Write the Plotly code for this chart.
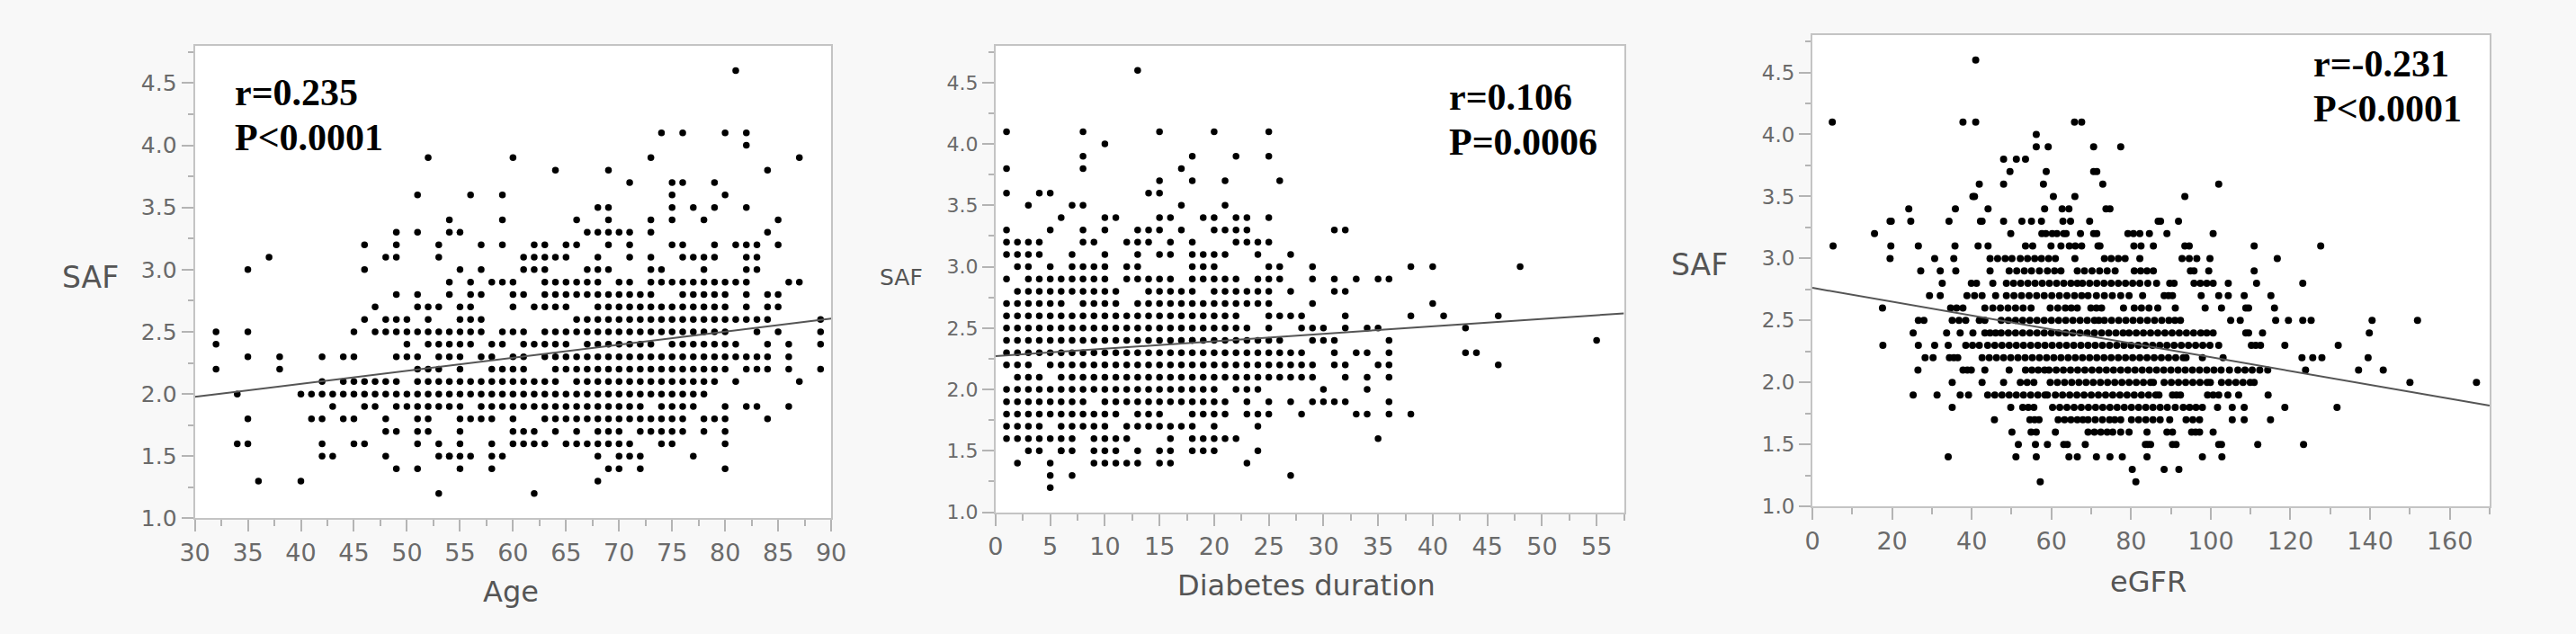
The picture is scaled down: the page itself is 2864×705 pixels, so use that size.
import plotly.graph_objects as go

# SAF level -> ages of the dots on that row
age_rows = {
    4.6: [81],
    4.1: [74, 76, 80, 82],
    4.0: [82],
    3.9: [52, 60, 73, 87],
    3.8: [64, 69, 84],
    3.7: [71, 75, 76, 79],
    3.6: [51, 56, 59, 75, 80],
    3.5: [68, 69, 75, 77, 79, 82],
    3.4: [54, 59, 66, 69, 73, 75, 78, 85],
    3.3: [49, 51, 54, 55, 67, 68, 69, 70, 71, 73, 84],
    3.2: [46, 49, 53, 57, 59, 62, 63, 65, 66, 69, 71, 75, 76, 79, 81, 82, 83, 85],
    3.1: [37, 48, 49, 53, 61, 62, 63, 64, 65, 68, 71, 73, 76, 77, 78, 79, 82, 83],
    3.0: [35, 46, 55, 57, 61, 62, 63, 67, 68, 69, 73, 74, 78, 82, 83],
    2.9: [54, 56, 58, 59, 60, 63, 64, 65, 66, 67, 68, 70, 71, 73, 74, 75, 76, 77, 78,
          79, 80, 81, 82, 86, 87],
    2.8: [49, 51, 54, 56, 57, 60, 61, 63, 64, 65, 66, 67, 68, 69, 70, 71, 72, 73, 76,
          77, 78, 79, 80, 82, 84, 85],
    2.7: [47, 51, 52, 53, 55, 56, 60, 62, 63, 64, 65, 68, 69, 70, 71, 72, 73, 74, 75,
          76, 77, 78, 79, 80, 82, 84, 85],
    2.6: [46, 48, 49, 50, 52, 55, 56, 57, 66, 67, 68, 69, 70, 71, 72, 73, 74, 75, 76,
          77, 78, 79, 80, 81, 82, 83, 84, 89],
    2.5: [32, 35, 45, 47, 48, 49, 50, 51, 52, 53, 54, 55, 56, 57, 59, 60, 61, 63, 64,
          65, 66, 67, 68, 69, 70, 71, 72, 73, 74, 75, 76, 77, 78, 79, 80, 83, 85, 89],
    2.4: [32, 50, 52, 53, 54, 55, 56, 58, 59, 61, 62, 63, 64, 65, 67, 68, 69, 70, 71,
          72, 73, 75, 76, 77, 78, 79, 80, 81, 84, 86, 89],
    2.3: [35, 38, 42, 44, 45, 49, 50, 51, 53, 54, 55, 57, 58, 60, 61, 63, 64, 65, 66,
          67, 68, 69, 70, 71, 72, 73, 74, 75, 76, 77, 78, 79, 80, 81, 82, 83, 84, 86],
    2.2: [32, 38, 51, 52, 53, 55, 58, 59, 60, 61, 64, 65, 66, 67, 68, 69, 70, 71, 72,
          73, 74, 75, 76, 77, 78, 79, 80, 82, 83, 84, 86, 89],
    2.1: [42, 44, 45, 46, 47, 48, 49, 51, 52, 53, 54, 55, 56, 57, 58, 59, 60, 61, 62,
          63, 64, 66, 67, 68, 69, 70, 71, 72, 73, 74, 75, 76, 77, 78, 79, 81, 87],
    2.0: [34, 40, 41, 42, 43, 44, 45, 46, 47, 48, 49, 50, 51, 52, 53, 54, 55, 56, 57,
          58, 59, 60, 61, 62, 63, 64, 65, 66, 67, 68, 69, 70, 71, 72, 73, 74, 75, 76,
          77, 78],
    1.9: [43, 46, 47, 49, 50, 51, 52, 53, 54, 55, 57, 58, 59, 60, 61, 62, 63, 64, 65,
          66, 67, 68, 69, 70, 71, 72, 74, 75, 76, 77, 80, 82, 83, 86],
    1.8: [35, 41, 42, 44, 45, 48, 51, 52, 55, 56, 57, 58, 60, 63, 64, 65, 66, 67, 68,
          69, 70, 71, 72, 73, 74, 75, 76, 78, 79, 80, 84],
    1.7: [48, 49, 51, 52, 55, 60, 61, 62, 64, 66, 68, 69, 70, 72, 73, 74, 75, 76, 78, 80],
    1.6: [34, 35, 42, 45, 46, 51, 53, 55, 58, 60, 61, 62, 63, 65, 66, 67, 68, 69, 70,
          71, 74, 75, 80],
    1.5: [42, 43, 48, 53, 54, 54, 55, 56, 58, 59, 68, 70, 71, 72, 77],
    1.4: [49, 51, 55, 58, 69, 70, 72, 80],
    1.3: [36, 40, 68],
    1.2: [53, 62],
}

# SAF level -> diabetes duration (years)
duration_rows = {
    4.6: [13],
    4.1: [1, 8, 15, 20, 25],
    4.0: [10],
    3.9: [8, 18, 22, 25],
    3.8: [1, 8, 17],
    3.7: [15, 18, 21, 26],
    3.6: [1, 4, 5, 14, 15],
    3.5: [3, 7, 8, 17, 21],
    3.4: [6, 10, 11, 15, 16, 19, 20, 22, 23, 25],
    3.3: [1, 5, 8, 10, 13, 14, 15, 17, 20, 21, 22, 23, 31, 32],
    3.2: [1, 2, 3, 4, 8, 9, 12, 13, 14, 16, 18, 22, 23, 24, 25],
    3.1: [1, 2, 3, 4, 7, 10, 13, 15, 16, 18, 19, 20, 21, 24, 27],
    3.0: [2, 3, 5, 7, 8, 9, 10, 12, 13, 18, 19, 20, 25, 26, 29, 38, 40, 48],
    2.9: [1, 3, 4, 5, 6, 7, 8, 9, 10, 12, 13, 14, 15, 16, 18, 19, 20, 21, 22, 24, 25,
          26, 29, 31, 33, 35, 36],
    2.8: [2, 3, 4, 5, 6, 7, 8, 9, 10, 11, 14, 15, 16, 17, 18, 20, 21, 22, 23, 24, 25,
          27, 31, 32],
    2.7: [1, 2, 3, 4, 5, 6, 8, 9, 10, 11, 13, 14, 15, 16, 17, 18, 19, 20, 21, 22, 23,
          24, 25, 29, 40],
    2.6: [1, 2, 3, 4, 5, 6, 7, 8, 9, 10, 11, 12, 13, 14, 15, 16, 17, 18, 19, 20, 21,
          22, 25, 26, 27, 28, 32, 38, 41, 46],
    2.5: [1, 2, 3, 4, 5, 6, 7, 8, 9, 10, 11, 12, 13, 14, 15, 16, 17, 18, 19, 20, 21,
          22, 23, 25, 28, 29, 30, 32, 34, 35, 43],
    2.4: [1, 2, 3, 4, 5, 6, 7, 8, 9, 10, 11, 12, 13, 14, 15, 16, 17, 18, 18, 19, 20,
          21, 22, 23, 24, 25, 26, 29, 30, 31, 36, 55],
    2.3: [1, 2, 3, 4, 5, 6, 7, 8, 9, 10, 11, 12, 13, 14, 15, 16, 17, 18, 19, 20, 21,
          22, 23, 24, 25, 26, 27, 28, 31, 33, 34, 36, 43, 44],
    2.2: [1, 2, 3, 5, 6, 7, 8, 9, 10, 11, 12, 13, 14, 15, 16, 17, 18, 19, 20, 21, 22,
          23, 24, 25, 26, 27, 28, 29, 31, 32, 35, 36, 46],
    2.1: [2, 3, 4, 6, 7, 8, 9, 10, 11, 12, 13, 14, 15, 16, 17, 18, 19, 20, 21, 22, 23,
          24, 25, 26, 27, 28, 29, 32, 34, 36],
    2.0: [1, 2, 3, 4, 5, 6, 7, 8, 9, 10, 11, 12, 13, 14, 15, 16, 17, 18, 19, 20, 22,
          23, 24, 30, 34],
    1.9: [1, 2, 3, 4, 5, 6, 7, 8, 10, 11, 12, 13, 14, 15, 16, 17, 18, 19, 20, 21, 23,
          25, 27, 29, 30, 31, 32, 36],
    1.8: [1, 2, 3, 4, 5, 6, 7, 8, 9, 10, 11, 13, 14, 15, 18, 19, 20, 21, 23, 24, 25,
          28, 33, 34, 36, 38],
    1.7: [1, 2, 3, 4, 6, 7, 8, 9, 10, 12, 13, 14, 15, 16, 17, 18, 20, 24],
    1.6: [1, 2, 3, 4, 5, 6, 7, 9, 10, 11, 12, 16, 18, 19, 20, 21, 22, 35],
    1.5: [3, 4, 6, 6, 7, 9, 10, 11, 13, 15, 16, 18, 19, 20, 24],
    1.4: [2, 5, 9, 10, 11, 12, 13, 15, 16, 23],
    1.3: [5, 7, 27],
    1.2: [5],
}

# SAF level -> eGFR
egfr_rows = {
    4.6: [41],
    4.1: [5, 37.8, 41, 65.8, 67.6],
    4.0: [56.2],
    3.9: [56.2, 59.2, 70.6, 77.4],
    3.8: [48, 51.2, 53.5],
    3.7: [49.6, 58.7, 70.6, 71.4],
    3.6: [41.9, 48, 58, 72.9, 102],
    3.5: [40.3, 40.7, 60.5, 65.9, 93.5],
    3.4: [24.2, 35.9, 44.1, 58.3, 62.7, 64.4, 73.7, 74.7],
    3.3: [19.5, 19.8, 24.7, 34.3, 42.2, 42.6, 48, 52.6, 55, 57.5, 62.9, 64.8, 69.6,
          86.8, 87.4, 91.9],
    3.2: [15.6, 49.8, 57.6, 58.6, 60.2, 61.4, 63.1, 63.7, 67.3, 70.6, 71.4, 79.2, 80.6,
          82.2, 84.6, 89, 100.6],
    3.1: [5.2, 19.7, 26.6, 35.8, 41.6, 44.1, 53.5, 55.3, 59.9, 62.4, 64.5, 66, 67.6,
          71.7, 72.2, 80.7, 82.5, 85.6, 93.5, 94.6, 110.9, 127.6],
    3.0: [19.5, 30.7, 35.5, 44.6, 46.5, 48.4, 50.1, 52.2, 54, 55.8, 57.5, 59.3, 61,
          65.9, 73.3, 75, 76.8, 78.5, 82.2, 92.8, 94.6, 96.5, 99.8, 116.7],
    2.9: [27.2, 32.1, 36, 44.6, 49.4, 51.3, 53.2, 55, 57, 59, 60.8, 62.4, 66.5, 68.3,
          70.2, 72.1, 74, 76, 80.8, 82.4, 84, 85.6, 94.9, 95.8, 99.5, 110.9],
    2.8: [32.6, 39.9, 41.2, 45.3, 48.7, 50.5, 52.3, 54.1, 55.9, 57.7, 59.5, 61.3, 63.1,
          64.9, 66.5, 67.8, 69.6, 71.4, 73.2, 75, 76.8, 78.6, 80.4, 82.2, 84.2, 86.4,
          89.7, 90.8, 95.8, 97.4, 99, 100.6, 104.4, 111.5, 123.1],
    2.7: [29.4, 32.1, 38.8, 40.7, 42.6, 46, 48.7, 50.6, 52.5, 54.4, 56.3, 58.2, 60.1,
          62, 63.9, 65.8, 67.6, 69.2, 71.3, 73.3, 75.3, 77.4, 79.5, 82.9, 88.3, 89.4,
          90.4, 97.6, 102, 104.4, 108.4, 115.1],
    2.6: [17.6, 34.7, 36.2, 37.8, 43.3, 45.3, 47.2, 49.1, 51, 52.9, 54.9, 59.7, 61.6,
          63.5, 65, 66.5, 69.9, 71.3, 72.6, 78.1, 80.8, 82.6, 84.5, 86.7, 91.1, 98.6,
          102.7, 108.8, 109.5, 116],
    2.5: [26.6, 28, 35.1, 36.8, 38.5, 41.9, 43.3, 47.4, 49.2, 51, 52.8, 54.6, 56.4,
          58.2, 60, 61.8, 63.6, 65.4, 67.2, 69, 70.8, 71.9, 73.3, 75.1, 76.9, 78.7,
          80.5, 82.3, 84.1, 85.9, 87.7, 89.5, 91, 92.4, 105, 107.4, 116.3, 119.5, 123.1,
          125.2, 140.5, 151.9],
    2.4: [25.3, 33.7, 37.1, 40.3, 43.3, 44.6, 46, 47.4, 49.2, 51, 52.8, 54.6, 56.4,
          58.2, 60, 61.8, 63.6, 65.4, 67.2, 69, 70.8, 72.6, 74.4, 76.2, 78, 79.5, 81.3,
          83.1, 84.9, 86.7, 88.5, 90.3, 92.1, 93.9, 95.7, 97.5, 99, 100.6, 108.8, 109.5,
          113, 139.8],
    2.3: [17.7, 26.6, 30.7, 34.1, 38.5, 40.2, 41.9, 44, 45.8, 47.6, 49.4, 51.2, 53,
          54.8, 56.6, 58.4, 60.2, 62, 63.8, 65.6, 67.4, 69.2, 71, 72.8, 74.6, 76.4,
          78.2, 80, 81.8, 83.6, 85.4, 87.2, 89, 90.8, 92.6, 94.4, 96.2, 98, 99.8, 102,
          110.2, 111.3, 112.5, 118.6, 132],
    2.2: [28.3, 30.3, 34.4, 35.5, 36.5, 42.6, 44.4, 46.2, 48, 49.8, 51.6, 53.4, 55.2,
          57, 58.8, 60.6, 62.4, 64.2, 66, 67.8, 69.6, 71.4, 73.2, 75, 76.8, 78.6, 80.4,
          82.2, 84, 85.8, 87.6, 89.4, 91.2, 93.1, 93.8, 97.9, 103.1, 122.9, 125.6,
          127.9, 139.5],
    2.1: [26.5, 37.8, 38.9, 39.9, 43.3, 49.4, 53.5, 55.1, 56.7, 58.3, 59.4, 61.2, 63,
          64.8, 66.6, 68.4, 70.2, 72, 73.8, 75.6, 77.4, 79.2, 81, 82.8, 84.6, 86.4,
          88.2, 90, 91.8, 93.6, 95.4, 97.2, 99, 100.8, 102.6, 104.7, 106.8, 108.6,
          110.4, 112.3, 114.3, 123.8, 137.1, 143.3],
    2.0: [35.1, 42.6, 48, 52.2, 53.9, 55.6, 59.7, 61.5, 63.3, 65.1, 66.9, 68.7, 70.5,
          72.3, 74.1, 75.9, 77.7, 79.5, 81.3, 83.1, 84.9, 85.6, 88.3, 90.1, 91.9, 93.7,
          95.5, 97.3, 99.1, 99.9, 102.7, 104.5, 106.3, 108.1, 109.9, 110.9, 150, 166.7],
    1.9: [25.3, 31.3, 37.1, 39.2, 44, 45.8, 47.6, 49.4, 51.2, 53, 54.8, 56.6, 58.4, 59,
          61, 62.8, 64.6, 66.4, 68.2, 70, 71.8, 73.6, 75.4, 77.2, 79, 80.8, 82.6, 84.4,
          86.2, 87, 90.4, 91.4, 92.4, 99.2, 100.6, 102, 104.3, 107, 114.4],
    1.8: [35.1, 49.8, 52.8, 54.2, 55.6, 60.3, 62.1, 63.9, 65.7, 67.5, 69.3, 71.1, 72.9,
          74.7, 76.5, 78.3, 80.1, 81.9, 83.7, 85.5, 87.3, 89.1, 91.1, 93.1, 94.7, 96.3,
          97.9, 101.7, 105.4, 108.4, 118.6, 131.7],
    1.7: [45.7, 54.6, 55.8, 56.9, 61.7, 63.3, 64.9, 66.5, 67.9, 69.2, 71, 72.8, 74.6,
          75.9, 77.4, 80.1, 81.9, 83.7, 85.5, 87.3, 89.7, 93.8, 95.5, 97.2, 105.4,
          108.4, 115],
    1.6: [50.1, 54.9, 56.2, 61, 69.2, 70.8, 72.4, 74, 75.4, 77.4, 79.5, 84, 89, 90.4,
          95.2, 96.2, 97.2, 100.6],
    1.5: [51.7, 56, 59, 63.1, 64, 68.5, 83.6, 84.2, 84.9, 90.4, 91.3, 102, 102.7, 111.8,
          123.3],
    1.4: [34.1, 51.1, 56.2, 64.4, 66.5, 71.3, 74.7, 77.8, 84, 97.9, 102.8],
    1.3: [80.3, 88.3, 92],
    1.2: [57.2, 81.2],
}

# fitted lines, end points
age_fit_x = [30, 90]
age_fit_y = [1.977, 2.607]
duration_fit_x = [0, 57.5]
duration_fit_y = [2.272, 2.62]
egfr_fit_x = [0, 170]
egfr_fit_y = [2.763, 1.813]

stats = [("r=0.235", "P<0.0001"), ("r=0.106", "P=0.0006"), ("r=-0.231", "P<0.0001")]
x_titles = ["Age", "Diabetes duration", "eGFR"]


def flatten(rows):
    xs, ys = [], []
    for saf, vals in rows.items():
        xs.extend(vals)
        ys.extend([saf] * len(vals))
    return xs, ys


W, H = 2864, 705
SANS = "DejaVu Sans"
AXIS_GREY = "#c4c4c4"
TICK_GREY = "#b4b4b4"
LABEL_GREY = "#6a6a6a"

fig = go.Figure()

panels = [
    dict(rows=age_rows, fit=(age_fit_x, age_fit_y), xr=[30, 90], dt=5, xdom=(202, 918), ydom=(52, 589), yfs=25, ms=7.5),
    dict(rows=duration_rows, fit=(duration_fit_x, duration_fit_y), xr=[0, 57.5], dt=5, xdom=(1103, 1810), ydom=(52, 582), yfs=22, ms=7.5),
    dict(rows=egfr_rows, fit=(egfr_fit_x, egfr_fit_y), xr=[0, 170], dt=20, xdom=(2022, 2784), ydom=(40, 575.5), yfs=23, ms=8),
]

layout = {}
for i, p in enumerate(panels, start=1):
    sfx = "" if i == 1 else str(i)
    xs, ys = flatten(p["rows"])
    fig.add_trace(go.Scatter(
        x=xs, y=ys, mode="markers", xaxis="x" + sfx, yaxis="y" + sfx,
        marker=dict(color="black", size=p["ms"], line=dict(width=0)), showlegend=False,
    ))
    fx, fy = p["fit"]
    fig.add_trace(go.Scatter(
        x=fx, y=fy, mode="lines", xaxis="x" + sfx, yaxis="y" + sfx,
        line=dict(color="#555555", width=2), showlegend=False,
    ))
    common = dict(
        showgrid=False, zeroline=False, showline=True, linecolor=AXIS_GREY, linewidth=2,
        mirror=True, ticks="outside", ticklen=13, tickwidth=2, tickcolor=TICK_GREY,
    )
    layout["xaxis" + sfx] = dict(
        common, domain=[p["xdom"][0] / W, p["xdom"][1] / W], range=p["xr"],
        tick0=0, dtick=p["dt"], anchor="y" + sfx,
        tickfont=dict(family=SANS, size=27, color=LABEL_GREY),
        minor=dict(dtick=p["dt"] / 2, ticks="outside", ticklen=7, tickwidth=2, tickcolor=TICK_GREY),
    )
    layout["yaxis" + sfx] = dict(
        common, domain=[1 - p["ydom"][1] / H, 1 - p["ydom"][0] / H], range=[1.0, 4.8],
        tick0=1, dtick=0.5, tickformat=".1f", anchor="x" + sfx,
        tickfont=dict(family=SANS, size=p["yfs"], color=LABEL_GREY),
        minor=dict(dtick=0.25, ticks="outside", ticklen=6, tickwidth=2, tickcolor=TICK_GREY),
    )

annotations = []
# r / P text, left edge and line centres in pixels
stat_pos = [(245, 105, 156), (1611, 110, 161), (2584, 73, 124)]
for (r_txt, p_txt), (x0, y_r, y_p) in zip(stats, stat_pos):
    for txt, yy in ((r_txt, y_r), (p_txt, y_p)):
        annotations.append(dict(
            text=txt.replace("<", "&lt;"), x=x0 / W, y=1 - yy / H, xref="paper", yref="paper",
            xanchor="left", yanchor="middle", showarrow=False,
            font=dict(family="Liberation Serif", size=42, color="black", weight="bold"),
        ))

saf_pos = [(84, 315, 33), (997, 315, 25), (1895, 301, 33)]
for x0, y0, fs in saf_pos:
    annotations.append(dict(
        text="SAF", x=x0 / W, y=1 - y0 / H, xref="paper", yref="paper",
        xanchor="center", yanchor="middle", showarrow=False,
        font=dict(family=SANS, size=fs, color="#555555"),
    ))

xt_pos = [(558, 672), (1453, 665), (2400, 661)]
for txt, (x0, y0) in zip(x_titles, xt_pos):
    annotations.append(dict(
        text=txt, x=x0 / W, y=1 - y0 / H, xref="paper", yref="paper",
        xanchor="center", yanchor="middle", showarrow=False,
        font=dict(family=SANS, size=32, color="#555555"),
    ))

fig.update_layout(
    **layout,
    annotations=annotations,
    width=W, height=H, margin=dict(l=0, r=0, t=0, b=0),
    paper_bgcolor="#f8f8f8", plot_bgcolor="white",
    showlegend=False,
)

fig.write_html("out.html", config={"displayModeBar": False},
               post_script="document.body.style.margin='0';")
